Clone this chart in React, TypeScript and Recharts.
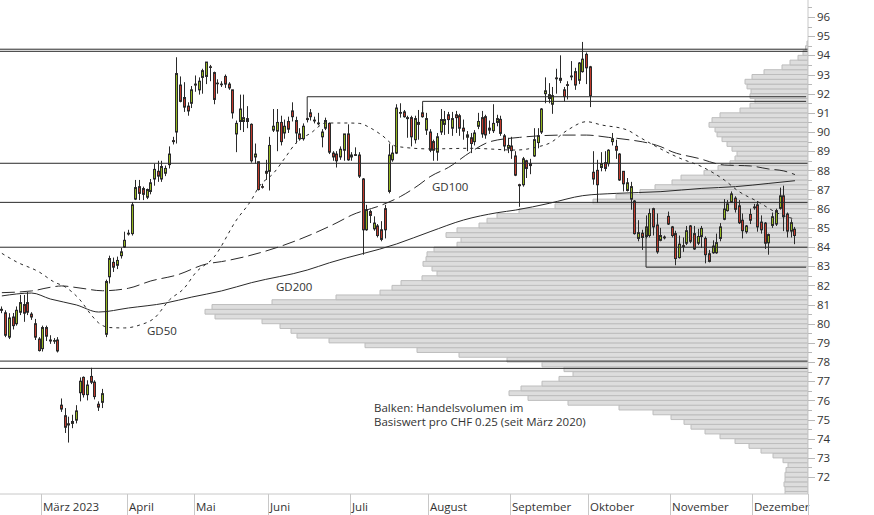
import React from 'react';
import { ComposedChart, BarChart, Bar, Line, XAxis, YAxis, ReferenceLine } from 'recharts';

// ---------- data ----------
const SLOTS = 217; // trading-day slots on the x axis (Feb 14 2023 .. Dec 2023)

const monthTickIdx = [11, 34, 52, 72, 94, 115, 137, 158, 180, 202];
const monthTickLabel = ['März 2023', 'April', 'Mai', 'Juni', 'Juli', 'August', 'September', 'Oktober', 'November', 'Dezember'];

const priceTicks = [72, 72.5, 73, 73.5, 74, 74.5, 75, 75.5, 76, 76.5, 77, 77.5, 78, 78.5, 79, 79.5, 80, 80.5, 81, 81.5, 82, 82.5, 83, 83.5, 84, 84.5, 85, 85.5, 86, 86.5, 87, 87.5, 88, 88.5, 89, 89.5, 90, 90.5, 91, 91.5, 92, 92.5, 93, 93.5, 94, 94.5, 95, 95.5, 96, 96.5];

// [open, high, low, close]
const candles: [number, number, number, number][] = [
  [80.75, 80.9, 80.55, 80.7], [80.57, 80.7, 79.3, 79.4], [79.3, 80.55, 79.2, 80.3], [80.35, 80.56, 79.7, 79.9],
  [80.0, 80.9, 79.9, 80.7], [80.6, 81.5, 80.45, 81.1], [81.0, 81.5, 80.1, 80.55], [81.1, 81.65, 80.45, 80.6],
  [80.5, 80.6, 80.2, 80.35], [80.0, 80.25, 79.15, 79.3], [79.2, 79.3, 78.55, 78.6], [78.7, 79.9, 78.55, 79.8],
  [79.8, 79.9, 79.1, 79.35], [79.15, 79.4, 78.95, 79.1], [79.1, 79.25, 78.95, 79.12], [79.15, 79.3, 78.5, 78.58],
  [75.75, 76.1, 75.4, 75.55], [75.2, 75.6, 74.3, 74.6], [74.78, 75.15, 73.8, 74.72], [74.8, 75.25, 74.55, 74.9],
  [74.97, 75.75, 74.8, 75.45], [76.4, 77.2, 75.95, 77.0], [77.2, 77.25, 76.15, 76.3], [76.3, 77.05, 76.0, 76.8],
  [77.25, 77.7, 76.85, 76.95], [76.95, 77.05, 76.05, 76.2], [75.8, 75.95, 75.45, 75.65], [75.9, 76.6, 75.6, 76.35],
  [79.45, 82.3, 79.3, 82.2], [82.45, 83.55, 82.1, 83.4], [83.2, 83.45, 82.7, 82.95], [83.05, 83.5, 82.85, 83.3],
  [83.55, 83.95, 83.4, 83.75], [84.0, 84.8, 83.95, 84.35], [84.72, 84.9, 84.6, 84.68], [84.7, 86.35, 84.6, 86.2],
  [86.5, 87.5, 86.45, 87.1], [87.15, 87.5, 86.45, 86.8], [87.05, 87.15, 86.45, 86.75], [86.6, 87.05, 86.5, 87.0],
  [86.9, 87.55, 86.75, 87.35], [87.55, 88.35, 87.2, 88.05], [87.95, 88.5, 87.4, 87.7], [87.55, 88.5, 87.4, 88.2],
  [87.85, 88.25, 87.7, 88.1], [88.3, 89.25, 88.1, 88.85], [89.55, 89.75, 89.35, 89.5], [90.0, 93.9, 89.4, 93.05],
  [92.45, 92.9, 91.55, 91.6], [91.8, 92.6, 91.05, 91.3], [91.35, 91.55, 90.85, 91.1], [91.5, 92.4, 91.25, 92.2],
  [92.45, 92.95, 92.1, 92.5], [92.2, 92.85, 91.95, 92.65], [92.85, 93.3, 92.0, 93.2], [92.9, 93.65, 92.5, 93.65],
  [93.4, 93.5, 92.65, 93.38], [93.1, 93.15, 91.45, 91.7], [92.55, 92.75, 92.0, 92.52], [92.5, 92.65, 92.35, 92.48],
  [92.9, 93.0, 92.3, 92.5], [92.5, 92.6, 92.2, 92.3], [92.2, 92.2, 90.7, 91.0], [89.9, 90.6, 88.95, 90.45],
  [90.55, 91.95, 90.1, 91.2], [90.55, 91.95, 90.0, 90.75], [90.7, 91.35, 90.2, 90.55], [90.4, 90.45, 88.4, 88.5],
  [88.7, 89.4, 88.35, 88.85], [88.45, 88.45, 86.95, 87.0], [87.15, 87.3, 87.05, 87.12], [87.95, 88.55, 87.5, 87.85],
  [87.95, 89.75, 86.95, 89.3], [90.1, 91.2, 90.0, 90.3], [90.05, 91.2, 89.0, 90.5], [90.5, 90.85, 89.3, 89.5],
  [89.95, 90.65, 89.65, 90.3], [90.55, 90.8, 89.95, 90.15], [91.1, 91.55, 90.55, 90.8], [90.6, 90.8, 89.4, 89.95],
  [89.9, 90.2, 89.55, 89.65], [89.65, 90.45, 89.55, 90.3], [90.7, 90.75, 90.5, 90.65], [91.0, 91.2, 90.6, 90.8],
  [90.62, 90.8, 90.45, 90.58], [90.47, 91.0, 90.35, 90.43], [89.75, 90.15, 89.2, 90.0], [90.2, 90.75, 90.1, 90.6],
  [90.45, 90.5, 88.85, 88.95], [88.9, 89.0, 88.5, 88.7], [88.85, 89.0, 88.15, 88.5], [88.7, 89.25, 88.55, 89.1],
  [89.05, 89.9, 88.5, 89.9], [89.9, 90.4, 88.5, 88.55], [88.7, 88.95, 88.5, 88.8], [88.82, 89.2, 88.75, 88.78],
  [88.8, 88.95, 87.6, 87.7], [87.55, 87.6, 83.6, 84.9], [84.9, 86.2, 84.85, 85.95], [85.85, 85.95, 85.25, 85.65],
  [84.95, 85.6, 84.85, 85.25], [85.1, 85.2, 84.5, 84.6], [84.9, 85.35, 84.3, 84.4], [86.0, 86.2, 84.45, 84.9],
  [86.9, 89.4, 86.8, 88.8], [88.55, 89.3, 88.45, 88.9], [88.9, 91.45, 88.85, 91.25], [91.02, 91.5, 90.75, 90.98],
  [91.05, 91.15, 90.75, 90.8], [90.75, 90.85, 89.7, 90.7], [90.75, 90.85, 89.25, 89.75], [89.6, 90.85, 89.4, 90.7],
  [90.5, 91.15, 89.6, 90.4], [91.0, 91.35, 90.75, 90.8], [90.1, 91.0, 89.85, 90.7], [90.0, 90.15, 88.95, 89.05],
  [89.5, 89.6, 88.5, 89.05], [88.95, 89.95, 88.5, 89.75], [90.0, 91.2, 89.85, 90.65], [90.4, 91.1, 89.85, 90.65],
  [90.9, 91.05, 89.9, 90.65], [90.2, 91.05, 89.8, 90.7], [90.9, 91.1, 89.95, 90.75], [90.85, 90.95, 89.8, 90.2],
  [90.2, 90.65, 89.6, 90.05], [89.73, 90.05, 89.0, 89.85], [89.7, 89.95, 88.9, 89.4], [89.5, 90.1, 89.3, 89.95],
  [90.3, 91.0, 90.15, 90.55], [90.75, 91.1, 89.7, 89.9], [90.8, 90.9, 89.65, 89.85], [90.1, 90.6, 89.9, 90.2],
  [90.07, 91.45, 89.95, 90.45], [90.5, 90.9, 90.3, 90.7], [90.66, 90.85, 89.8, 89.93], [89.8, 89.9, 89.0, 89.27],
  [89.15, 89.7, 88.9, 89.3], [89.27, 89.75, 88.6, 89.03], [88.75, 89.0, 87.7, 87.75], [87.25, 87.3, 86.1, 87.2],
  [87.25, 88.7, 87.15, 88.6], [88.5, 88.55, 87.6, 88.1], [88.35, 88.6, 87.8, 88.25], [88.75, 90.2, 88.7, 89.6],
  [89.45, 90.2, 89.15, 89.8], [90.0, 91.25, 89.9, 91.2], [92.0, 92.85, 91.5, 92.15], [91.75, 92.55, 91.5, 91.95],
  [91.45, 92.35, 90.95, 91.9], [92.82, 93.3, 92.0, 92.78], [92.8, 94.0, 92.55, 92.7], [92.2, 92.35, 91.6, 91.85],
  [92.47, 92.65, 91.7, 92.43], [92.92, 93.7, 92.7, 92.88], [93.15, 93.35, 92.2, 92.45], [92.7, 93.65, 92.5, 93.6],
  [93.15, 94.7, 93.1, 93.8], [94.05, 94.15, 92.5, 93.35], [93.4, 93.45, 91.3, 91.9], [87.9, 89.0, 87.25, 87.55],
  [88.0, 88.55, 86.3, 87.25], [88.15, 88.95, 87.95, 88.35], [88.4, 89.0, 87.95, 88.1], [88.35, 89.1, 88.2, 89.05],
  [89.5, 89.95, 89.3, 89.65], [89.25, 89.6, 88.6, 89.05], [88.85, 88.9, 87.45, 87.5], [87.95, 87.95, 86.9, 87.3],
  [86.95, 87.6, 86.9, 87.35], [86.5, 87.4, 85.95, 87.15], [86.4, 86.45, 84.65, 84.7], [84.45, 85.4, 84.3, 84.75],
  [84.72, 84.9, 83.85, 84.5], [84.55, 85.65, 84.45, 85.05], [84.6, 86.0, 84.5, 85.75], [86.0, 86.05, 84.6, 85.05],
  [85.15, 85.75, 83.65, 83.75], [84.35, 85.0, 84.3, 84.6], [84.52, 84.6, 84.4, 84.48], [85.6, 85.85, 85.15, 85.2],
  [85.05, 85.1, 84.5, 84.6], [84.7, 84.85, 83.05, 83.4], [83.45, 84.6, 83.4, 84.15], [84.07, 84.5, 83.75, 84.03],
  [84.2, 85.1, 84.1, 84.85], [85.1, 85.15, 84.2, 84.3], [84.7, 85.1, 83.85, 83.9], [84.2, 84.95, 84.1, 84.55],
  [84.55, 85.1, 83.95, 84.97], [84.45, 84.55, 83.15, 83.6], [83.65, 83.85, 83.2, 83.25], [83.7, 84.35, 83.65, 84.05],
  [83.7, 84.7, 83.65, 84.23], [84.45, 85.25, 84.3, 85.05], [85.45, 86.5, 85.4, 85.98], [85.9, 86.45, 85.85, 86.25],
  [86.33, 86.9, 86.3, 86.77], [86.55, 86.65, 85.8, 85.97], [86.15, 86.45, 85.2, 85.27], [85.4, 85.75, 84.45, 84.85],
  [84.8, 85.15, 84.7, 85.1], [85.7, 86.0, 85.2, 85.4], [86.09, 86.25, 85.95, 86.05], [86.2, 86.4, 84.8, 85.05],
  [85.3, 85.65, 84.7, 84.9], [85.25, 85.3, 83.9, 84.2], [84.22, 84.7, 83.6, 84.65], [85.13, 85.8, 85.0, 85.58],
  [85.2, 86.0, 85.1, 85.9], [86.02, 87.1, 85.95, 86.67], [86.67, 87.2, 84.83, 85.58], [85.72, 85.8, 84.5, 84.83],
  [84.83, 85.45, 84.5, 85.27], [84.93, 85.05, 84.15, 84.6],
];

// moving averages (slot index -> value)
const gd50Idx = [0, 4, 10, 14, 17, 21, 24, 26, 29, 33, 37, 41, 45, 49, 52, 57, 63, 67, 69, 73, 76, 79, 83, 87, 93, 96, 99, 102, 106, 115, 126, 138, 144, 147, 152, 157, 161, 168, 171, 175, 182, 188, 194, 198, 203, 208, 213];
const gd50Val = [83.67, 83.22, 82.7, 82.18, 81.92, 81.24, 80.46, 80.04, 79.8, 79.78, 79.93, 80.3, 81.24, 81.86, 82.65, 83.48, 85.41, 86.45, 87.13, 87.86, 88.64, 89.43, 89.95, 90.47, 90.47, 90.45, 90.21, 89.84, 89.25, 89.12, 89.15, 89.06, 89.23, 89.41, 90.11, 90.54, 90.37, 90.1, 89.76, 89.32, 88.64, 88.19, 87.5, 86.89, 86.37, 85.8, 85.45];
const gd100Idx = [0, 8, 13, 16, 21, 27, 34, 40, 47, 55, 59, 90, 94, 102, 107, 112, 115, 120, 126, 131, 139, 151, 157, 163, 169, 172, 177, 180, 187, 194, 201, 206, 210, 213];
const gd100Val = [81.62, 81.71, 81.9, 81.97, 81.86, 81.72, 81.85, 82.23, 82.54, 83.12, 83.24, 85.27, 85.67, 86.19, 86.63, 87.24, 87.67, 88.16, 88.97, 89.49, 89.72, 89.84, 89.84, 89.72, 89.58, 89.49, 89.23, 88.97, 88.63, 88.28, 88.23, 88.07, 87.97, 87.78];
const gd200Idx = [0, 8, 13, 20, 26, 34, 44, 51, 59, 67, 82, 88, 106, 115, 124, 133, 138, 147, 156, 165, 177, 188, 197, 206, 213];
const gd200Val = [81.45, 81.6, 81.29, 80.98, 80.61, 80.82, 81.08, 81.39, 81.71, 82.14, 82.8, 83.18, 84.16, 84.8, 85.41, 85.79, 85.93, 86.28, 86.68, 86.8, 86.89, 87.06, 87.15, 87.32, 87.46];

// horizontal price levels
const levelFull = [94.32, 94.21, 88.37, 86.33, 83.99, 78.05, 77.67];
const levelStartIdx = [82, 113, 173];
const levelStartVal = [91.84, 91.6, 82.95];
const levelAnchorVal = [90.72, 91.0, 85.05];

// volume profile, buckets of CHF 0.25 starting at 71.00
const profileStart = 71.0;
const profileVol = [
  23, 23, 24, 23, 23, 22, 20, 25, 35, 47, 59, 73, 88, 103, 117, 124, 137, 155, 189, 240,
  280, 299, 287, 266, 249, 235, 244, 266, 301, 349, 391, 443, 479, 511, 517, 528, 546, 593, 603, 596,
  536, 472, 428, 416, 407, 386, 371, 376, 385, 382, 381, 374, 351, 347, 362, 351, 329, 321, 311, 289,
  253, 215, 192, 168, 153, 136, 127, 104, 90, 78, 73, 71, 76, 81, 86, 91, 93, 99, 96, 88,
  68, 58, 53, 58, 57, 61, 63, 56, 44, 26, 18, 10, 5, 2.5, 1,
];

// ---------- layout / style ----------
const W = 874;
const H = 515;
const PLOT_R = 808;
const PLOT_B = 494;
const BW = PLOT_R / SLOTS;
const Y_DOMAIN: [number, number] = [71.117, 96.887];
const FONT = "'Open Sans', 'Noto Sans', sans-serif";
const TXT = '#333';
const GREEN = '#93b51f';
const RED = '#c0392b';
const DARK = '#2a2a2a';
const AXIS = '#c8c8c8';

const rows = Array.from({ length: SLOTS }, (_, i) => {
  const c = candles[i];
  return {
    i,
    o: c ? c[0] : null,
    h: c ? c[1] : null,
    l: c ? c[2] : null,
    c: c ? c[3] : null,
    g50: null as number | null,
    g100: null as number | null,
    g200: null as number | null,
  };
});
gd50Idx.forEach((ix, k) => { rows[ix].g50 = gd50Val[k]; });
gd100Idx.forEach((ix, k) => { rows[ix].g100 = gd100Val[k]; });
gd200Idx.forEach((ix, k) => { rows[ix].g200 = gd200Val[k]; });

const profile = profileVol.map((v, k) => ({ p: profileStart + k * 0.25 + 0.125, v }));

const Candle = (props: any) => {
  const { x, y, width, height, payload } = props;
  if (!payload || payload.h == null || x == null) return null;
  const { o, h, l, c } = payload;
  const cxr = x + width / 2;
  const n = Math.floor(cxr);
  const cx = n + 0.5;
  const range = h - l;
  const k = range > 0 ? height / range : 0;
  const yO = y + (h - o) * k;
  const yC = y + (h - c) * k;
  const top = Math.min(yO, yC);
  const bh = Math.max(Math.abs(yC - yO), 0.6);
  const up = c >= o;
  return (
    <g>
      <line x1={cx} x2={cx} y1={y} y2={y + Math.max(height, 0.5)} stroke={DARK} strokeWidth={1} />
      <rect x={n - 0.5} y={top} width={2} height={bh} fill={up ? GREEN : RED} stroke={DARK} strokeWidth={1} />
    </g>
  );
};

const NoDot = () => null;

const MonthTick = (props: any) => {
  const { x, payload } = props;
  const v = payload.value;
  if (v === SLOTS - 1) {
    const ex = PLOT_R + 0.5;
    return <line x1={ex} x2={ex} y1={PLOT_B} y2={H} stroke={AXIS} strokeWidth={1} />;
  }
  const idx = monthTickIdx.indexOf(v);
  const lx = Math.round(x - BW / 2) + 0.5;
  return (
    <g>
      <line x1={lx} x2={lx} y1={PLOT_B} y2={H} stroke={AXIS} strokeWidth={1} />
      <text x={lx + 1.5} y={511} fontFamily={FONT} fontSize={11.5} fill={TXT} textAnchor="start">
        {idx >= 0 ? monthTickLabel[idx] : ''}
      </text>
    </g>
  );
};

const PriceTick = (props: any) => {
  const { y, payload } = props;
  const v = payload.value;
  const major = Math.abs(v - Math.round(v)) < 1e-6;
  const yy = Math.round(y) + 0.5;
  return (
    <g>
      <line x1={PLOT_R} x2={PLOT_R + (major ? 7 : 4)} y1={yy} y2={yy} stroke="#b8b8b8" strokeWidth={1} />
      {major && (
        <text x={817} y={y} dy="0.36em" fontFamily={FONT} fontSize={11.5} fill={TXT} textAnchor="start">
          {v}
        </text>
      )}
    </g>
  );
};

const labelStyle = (left: number, top: number): React.CSSProperties => ({
  position: 'absolute',
  left,
  top,
  fontFamily: FONT,
  fontSize: 11.5,
  lineHeight: '14px',
  color: TXT,
  whiteSpace: 'nowrap',
});

export default function App() {
  return (
    <div style={{ position: 'absolute', left: 0, top: 0, width: W, height: H, background: '#fff', overflow: 'hidden' }}>
      <div style={{ position: 'absolute', left: 0, top: 0 }}>
        <BarChart
          width={W}
          height={H}
          data={profile}
          layout="vertical"
          margin={{ top: 0, right: W - PLOT_R, bottom: H - PLOT_B, left: 0 }}
        >
          <XAxis type="number" hide domain={[0, PLOT_R]} reversed allowDataOverflow />
          <YAxis type="number" dataKey="p" hide domain={Y_DOMAIN} reversed allowDataOverflow />
          <Bar dataKey="v" barSize={4.79} fill="#dddddd" stroke="#bdbdbd" strokeWidth={1} isAnimationActive={false} />
        </BarChart>
      </div>
      <div style={{ position: 'absolute', left: 0, top: 0 }}>
        <ComposedChart width={W} height={H} data={rows} margin={{ top: 0, right: 0, bottom: 0, left: 0 }}>
          <XAxis
            dataKey="i"
            type="category"
            height={H - PLOT_B}
            ticks={[...monthTickIdx, SLOTS - 1]}
            interval={0}
            tick={<MonthTick />}
            tickLine={false}
            axisLine={{ stroke: AXIS }}
          />
          <YAxis
            orientation="right"
            type="number"
            width={W - PLOT_R}
            domain={Y_DOMAIN}
            allowDataOverflow
            ticks={priceTicks}
            interval={0}
            tick={<PriceTick />}
            tickLine={false}
            axisLine={{ stroke: AXIS }}
          />
          {levelFull.map((v, k) => (
            <ReferenceLine key={'f' + k} y={v} stroke={DARK} strokeWidth={1} />
          ))}
          {levelStartIdx.map((ix, k) => (
            <ReferenceLine
              key={'s' + k}
              segment={[{ x: ix, y: levelStartVal[k] }, { x: SLOTS - 1, y: levelStartVal[k] }]}
              stroke={DARK}
              strokeWidth={1}
            />
          ))}
          {levelStartIdx.map((ix, k) => (
            <ReferenceLine
              key={'a' + k}
              segment={[{ x: ix, y: levelStartVal[k] }, { x: ix, y: levelAnchorVal[k] }]}
              stroke={DARK}
              strokeWidth={1}
            />
          ))}
          <Line dataKey="g200" type="monotone" stroke={DARK} strokeWidth={1} dot={NoDot} activeDot={false} connectNulls isAnimationActive={false} />
          <Line dataKey="g100" type="monotone" stroke={DARK} strokeWidth={1} strokeDasharray="13 5" dot={NoDot} activeDot={false} connectNulls isAnimationActive={false} />
          <Line dataKey="g50" type="monotone" stroke={DARK} strokeWidth={1} strokeDasharray="3 4" dot={NoDot} activeDot={false} connectNulls isAnimationActive={false} />
          <Bar
            dataKey={(d: any) => (d.h == null ? null : [d.l, d.h])}
            shape={<Candle />}
            isAnimationActive={false}
          />
        </ComposedChart>
      </div>
      <div style={labelStyle(147, 324)}>GD50</div>
      <div style={labelStyle(432, 180)}>GD100</div>
      <div style={labelStyle(276, 280)}>GD200</div>
      <div style={labelStyle(374, 401)}>
        Balken: Handelsvolumen im
        <br />
        Basiswert pro CHF 0.25 (seit März 2020)
      </div>
    </div>
  );
}
